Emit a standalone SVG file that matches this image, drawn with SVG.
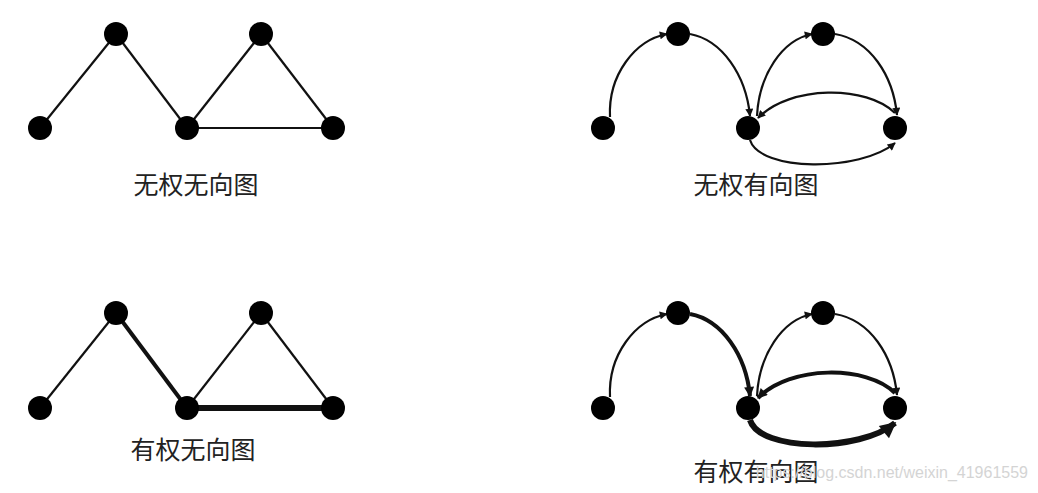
<svg xmlns="http://www.w3.org/2000/svg" width="1038" height="493" viewBox="0 0 1038 493">
<style>
.node{fill:#000}
.e{stroke:#111;fill:none;stroke-width:2.2}
.t4{stroke-width:4}
.t5{stroke-width:6}
.lbl{font-family:"Noto Sans CJK SC","Noto Sans",sans-serif;font-size:25px;fill:#222;text-anchor:middle}
.wm{font-family:"Liberation Sans",Arial,sans-serif;font-size:16px;fill:#d4d4d4;text-anchor:end}
</style>
<defs>
<marker id="ah" viewBox="0 0 10 10" refX="9" refY="5" markerUnits="userSpaceOnUse" markerWidth="9" markerHeight="8" orient="auto"><path d="M0,0 L10,5 L0,10 z" fill="#111"/></marker>
<marker id="ahm" viewBox="0 0 10 10" refX="9" refY="5" markerUnits="userSpaceOnUse" markerWidth="12" markerHeight="10" orient="auto"><path d="M0,0 L10,5 L0,10 z" fill="#111"/></marker>
<marker id="ahb" viewBox="0 0 10 10" refX="9" refY="5" markerUnits="userSpaceOnUse" markerWidth="19" markerHeight="16" orient="auto"><path d="M0,0 L10,5 L0,10 z" fill="#111"/></marker>
</defs>
<rect width="1038" height="493" fill="#fff"/>
<g id="connectors">
<line class="e" x1="40" y1="128" x2="116" y2="34"/>
<line class="e" x1="116" y1="34" x2="187" y2="128"/>
<line class="e" x1="187" y1="128" x2="261" y2="34"/>
<line class="e" x1="261" y1="34" x2="333" y2="128"/>
<line class="e" x1="187" y1="128" x2="333" y2="128"/>
<line class="e" x1="40" y1="408" x2="116" y2="313"/>
<line class="e t4" x1="116" y1="313" x2="187" y2="408"/>
<line class="e" x1="187" y1="408" x2="261" y2="313"/>
<line class="e" x1="261" y1="313" x2="333" y2="408"/>
<line class="e t5" x1="187" y1="408" x2="333" y2="408"/>
<path class="e" d="M610,117 C608,75 635,40 667,34" marker-end="url(#ah)"/>
<path class="e" d="M690,34 C722,40 746,75 750,116" marker-end="url(#ah)"/>
<path class="e" d="M757,116 C759,75 782,40 812,34" marker-end="url(#ah)"/>
<path class="e" d="M835,34 C870,40 893,75 897,115" marker-end="url(#ah)"/>
<path class="e" d="M895,113 C867,85 790,85 758,118" marker-end="url(#ah)"/>
<path class="e" d="M750,140 C760,172 860,172 895,143" marker-end="url(#ah)"/>
<path class="e" d="M610,397 C608,355 635,320 667,314" marker-end="url(#ah)"/>
<path class="e t4" d="M690,314 C722,320 746,355 750,396" marker-end="url(#ahm)"/>
<path class="e" d="M757,396 C759,355 782,320 812,314" marker-end="url(#ah)"/>
<path class="e" d="M835,314 C870,320 893,355 897,395" marker-end="url(#ah)"/>
<path class="e t4" d="M895,393 C867,365 790,365 758,398" marker-end="url(#ahm)"/>
<path class="e t5" d="M750,420 C760,452 860,452 895,423" marker-end="url(#ahb)"/>
</g>
<g id="g1">
<circle id="n1a" class="node" cx="40" cy="128" r="12"/>
<circle id="n1b" class="node" cx="116" cy="34" r="12"/>
<circle id="n1c" class="node" cx="187" cy="128" r="12"/>
<circle id="n1d" class="node" cx="261" cy="34" r="12"/>
<circle id="n1e" class="node" cx="333" cy="128" r="12"/>
<text class="lbl" x="196" y="194">无权无向图</text>
</g>
<g id="g2">
<circle id="n2a" class="node" cx="40" cy="408" r="12"/>
<circle id="n2b" class="node" cx="116" cy="313" r="12"/>
<circle id="n2c" class="node" cx="187" cy="408" r="12"/>
<circle id="n2d" class="node" cx="261" cy="313" r="12"/>
<circle id="n2e" class="node" cx="333" cy="408" r="12"/>
<text class="lbl" x="193" y="459">有权无向图</text>
</g>
<g id="g3">
<circle id="n3a" class="node" cx="603" cy="128" r="12"/>
<circle id="n3b" class="node" cx="678" cy="34" r="12"/>
<circle id="n3c" class="node" cx="748" cy="128" r="12"/>
<circle id="n3d" class="node" cx="823" cy="34" r="12"/>
<circle id="n3e" class="node" cx="895" cy="128" r="12"/>
<text class="lbl" x="756" y="194">无权有向图</text>
</g>
<g id="g4">
<circle id="n4a" class="node" cx="603" cy="408" r="12"/>
<circle id="n4b" class="node" cx="678" cy="313" r="12"/>
<circle id="n4c" class="node" cx="748" cy="408" r="12"/>
<circle id="n4d" class="node" cx="823" cy="313" r="12"/>
<circle id="n4e" class="node" cx="895" cy="408" r="12"/>
<text class="lbl" x="756" y="481">有权有向图</text>
</g>
<text class="wm" x="1028" y="478">https://blog.csdn.net/weixin_41961559</text>
</svg>
